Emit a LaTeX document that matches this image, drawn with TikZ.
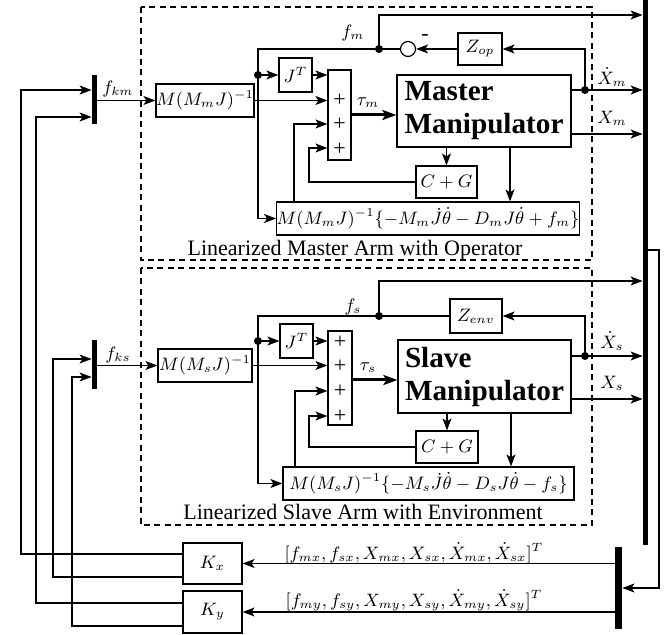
\documentclass[tikz,border=0pt]{standalone}
\usepackage[no-math]{fontspec}
\setmainfont{Liberation Serif}
\usetikzlibrary{arrows.meta,calc}

\newcommand\dgmMath{\fontsize{9}{11}\selectfont}
\newcommand\dgmText{\fontsize{11}{13}\selectfont}
\newcommand\dgmBig{\fontsize{14.6}{16.5}\selectfont\bfseries}

\begin{document}
\begin{tikzpicture}[x=0.5pt,y=-0.5pt,
  wire/.style={line width=0.6pt},
  arr/.style={wire,-{Stealth[length=6pt,width=4.5pt,inset=1.5pt]}},
  thickarr/.style={line width=1.5pt,-{Stealth[length=7pt,width=5pt,inset=1.5pt]}},
  blk/.style={draw,line width=0.6pt,inner sep=0pt,font=\dgmMath},
  bar/.style={fill=black,draw=none,inner sep=0pt},
  junc/.style={circle,fill=black,inner sep=0pt,minimum size=4pt},
  frame/.style={line width=0.6pt,dash pattern=on 3pt off 2.2pt},
  lbl/.style={font=\dgmMath,inner sep=0pt},
  sgn/.style={font=\dgmText,inner sep=0pt},
  captxt/.style={font=\dgmText,inner sep=0pt,anchor=base},
  wh/.style 2 args={minimum width=#1*0.5pt,minimum height=#2*0.5pt},
]
\useasboundingbox[fill=white] (0,0) rectangle (670,635);

% ---------- dashed frames ----------
\draw[frame] (141,7) rectangle (592,260);
\draw[frame] (141,268) rectangle (592,525);
\node[captxt] (capM) at (355,256) {Linearized Master Arm with Operator};
\node[captxt] (capS) at (363,520) {Linearized Slave Arm with Environment};

% ---------- bars ----------
\node[bar,wh={5}{545}] (barR) at (645.5,272.5) {};
\node[bar,wh={7}{82}] (barB) at (618.5,588) {};
\node[bar,wh={5}{49}] (barKm) at (94.5,99.5) {};
\node[bar,wh={5}{49}] (barKs) at (94.5,364.5) {};

% ---------- master arm ----------
\node[blk,wh={94}{33}] (Mm) at (205,100.5) {$M(M_mJ)^{-1}$};
\node[blk,wh={33}{34}] (JTm) at (295.5,75) {$J^T$};
\node[blk,wh={23}{90}] (sumM) at (339.5,115) {};
\node[sgn] (sm1) at (339.5,73) {-};
\node[sgn] (sm2) at (339.5,100) {+};
\node[sgn] (sm3) at (339.5,124) {+};
\node[sgn] (sm4) at (339.5,149) {+};
\node[blk,wh={44}{32}] (Zop) at (480,49) {$Z_{op}$};
\node[circle,draw,line width=0.6pt,inner sep=0pt,minimum size=7.5pt] (neg) at (408,49) {};
\node[sgn] (negsgn) at (425,38) {-};
\node[blk,font=\dgmBig,align=left,wh={174}{72}] (Mst) at (484,111) {Master\\Manipulator};
\node[blk,wh={61}{32}] (CGm) at (446.5,182) {$C+G$};
\node[blk,wh={290}{33}] (BotM) at (428,218.5) {$M(M_mJ)^{-1}\{-M_m\dot J\dot\theta-D_mJ\dot\theta+f_m\}$};

\node[junc] (jm) at (258,75) {};
\node[junc] (fm) at (379,49) {};
\node[junc] (vm) at (585,90) {};
\coordinate (ftopm) at (379,15);
\coordinate (xm) at (571,134);
\coordinate (bm) at (510,0);
\coordinate (cgm) at (309,148);
\coordinate (blm) at (294,124);

\draw[arr] (barKm.east |- Mm.west) -- (Mm.west);
\draw[arr] (jm.center) -- (JTm.west);
\draw[arr] (JTm.east) -- (JTm.east -| sumM.west);
\draw[arr] (Mm.east) -- (Mm.east -| sumM.west);
\draw[wire] (neg.west) -- (fm.center) -| (jm.center);
\draw[arr] (jm.center) |- (BotM.west);
\draw[arr] (fm.center) -- (ftopm) -- (ftopm -| barR.west);
\draw[arr] (Zop.west) -- (neg.east);
\draw[thickarr] (sumM.east) -- (sumM.east -| Mst.west);
\draw[wire] (Mst.east |- vm) -- (vm.center);
\draw[arr] (vm.center) -- (vm -| barR.west);
\draw[arr] (vm.center) |- (Zop.east);
\draw[arr] (xm) -- (xm -| barR.west);
\draw[arr] (Mst.south -| CGm.north) -- (CGm.north);
\draw[arr] (Mst.south -| bm) -- (BotM.north -| bm);
\draw[arr] (CGm.west) -| (cgm) -- (cgm -| sumM.west);
\draw[arr] (BotM.north -| blm) -- (blm) -- (blm -| sumM.west);

\node[lbl] (lfkm) at (118,89) {$f_{km}$};
\node[lbl] (lfm) at (353,33) {$f_m$};
\node[lbl] (ltaum) at (368,103) {$\tau_m$};
\node[lbl] (lvm) at (612,77) {$\dot X_m$};
\node[lbl] (lxm) at (612,118) {$X_m$};

% ---------- slave arm ----------
\node[blk,wh={94}{33}] (Ms) at (205,365.5) {$M(M_sJ)^{-1}$};
\node[blk,wh={33}{34}] (JTs) at (296.5,341) {$J^T$};
\node[blk,wh={24}{94}] (sumS) at (340,378) {};
\node[sgn] (ss1) at (340,342) {+};
\node[sgn] (ss2) at (340,366) {+};
\node[sgn] (ss3) at (340,391) {+};
\node[sgn] (ss4) at (340,416) {+};
\node[blk,wh={52}{34}] (Zenv) at (476,316) {$Z_{env}$};
\node[blk,font=\dgmBig,align=left,wh={173}{73}] (Slv) at (484.5,376.5) {Slave\\Manipulator};
\node[blk,wh={62}{32}] (CGs) at (447,447) {$C+G$};
\node[blk,wh={291}{33}] (BotS) at (428.5,483.5) {$M(M_sJ)^{-1}\{-M_s\dot J\dot\theta-D_sJ\dot\theta-f_s\}$};

\node[junc] (js) at (258,341) {};
\node[junc] (fs) at (379,316) {};
\node[junc] (vs) at (585,356) {};
\coordinate (ftops) at (379,281);
\coordinate (xs) at (571,399);
\coordinate (bs) at (511,0);
\coordinate (cgs) at (309,416);
\coordinate (bls) at (295,391);
\coordinate (taus) at (0,380);

\draw[arr] (barKs.east |- Ms.west) -- (Ms.west);
\draw[arr] (js.center) -- (JTs.west);
\draw[arr] (JTs.east) -- (JTs.east -| sumS.west);
\draw[arr] (Ms.east) -- (Ms.east -| sumS.west);
\draw[wire] (Zenv.west) -- (fs.center) -| (js.center);
\draw[arr] (js.center) |- (BotS.west);
\draw[arr] (fs.center) -- (ftops) -- (ftops -| barR.west);
\draw[thickarr] (sumS.east |- taus) -- (Slv.west |- taus);
\draw[wire] (Slv.east |- vs) -- (vs.center);
\draw[arr] (vs.center) -- (vs -| barR.west);
\draw[arr] (vs.center) |- (Zenv.east);
\draw[arr] (xs) -- (xs -| barR.west);
\draw[arr] (Slv.south -| CGs.north) -- (CGs.north);
\draw[arr] (Slv.south -| bs) -- (BotS.north -| bs);
\draw[arr] (CGs.west) -| (cgs) -- (cgs -| sumS.west);
\draw[arr] (BotS.north -| bls) -- (bls) -- (bls -| sumS.west);

\node[lbl] (lfks) at (118,355) {$f_{ks}$};
\node[lbl] (lfs) at (353,307) {$f_s$};
\node[lbl] (ltaus) at (368,368) {$\tau_s$};
\node[lbl] (lvs) at (612,341) {$\dot X_s$};
\node[lbl] (lxs) at (612,383) {$X_s$};

% ---------- gains and feedback ----------
\node[blk,wh={59}{41}] (Kx) at (212.5,563.5) {$K_x$};
\node[blk,wh={59}{42}] (Ky) at (212.5,612) {$K_y$};
\coordinate (fb) at (659,250);
\draw[arr] (barR.east |- fb) -- (fb) |- (barB.east);
\draw[arr] (barB.west |- Kx.east) -- (Kx.east);
\draw[arr] (barB.west |- Ky.east) -- (Ky.east);
\node[lbl] (vx) at (414,553) {$[f_{mx},f_{sx},X_{mx},X_{sx},\dot X_{mx},\dot X_{sx}]^T$};
\node[lbl] (vy) at (414,600) {$[f_{my},f_{sy},X_{my},X_{sy},\dot X_{my},\dot X_{sy}]^T$};

\coordinate (a1) at (21,554);  \coordinate (i1) at (0,90);
\coordinate (a2) at (53,577);  \coordinate (i2) at (0,359);
\coordinate (a3) at (36,603);  \coordinate (i3) at (0,117);
\coordinate (a4) at (72,626);  \coordinate (i4) at (0,377);
\draw[arr] (Kx.west |- a1) -- (a1) |- (barKm.west |- i1);
\draw[arr] (Kx.west |- a2) -- (a2) |- (barKs.west |- i2);
\draw[arr] (Ky.west |- a3) -- (a3) |- (barKm.west |- i3);
\draw[arr] (Ky.west |- a4) -- (a4) |- (barKs.west |- i4);
\end{tikzpicture}
\end{document}
